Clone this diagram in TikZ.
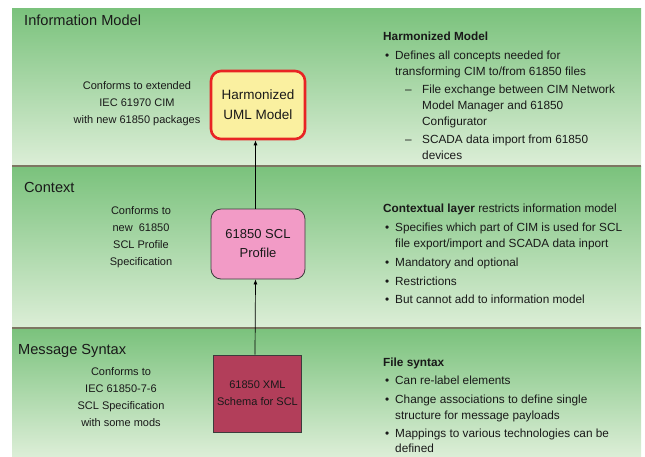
\documentclass[tikz,border=0pt]{standalone}
\usepackage{fontspec}
\setmainfont{Liberation Sans}
\usetikzlibrary{arrows.meta}
\definecolor{bandtop}{RGB}{122,194,124}
\definecolor{bandbot}{RGB}{220,238,215}
\definecolor{sepline}{RGB}{125,118,98}
\definecolor{txt}{RGB}{25,25,25}
\definecolor{harmfill}{RGB}{250,240,160}
\definecolor{harmdraw}{RGB}{232,36,36}
\definecolor{sclfill}{RGB}{242,155,198}
\definecolor{schemafill}{RGB}{178,62,90}
\definecolor{boxline}{RGB}{60,60,60}
\tikzset{
  band/.style={top color=bandtop,bottom color=bandbot},
  sep/.style={draw=sepline,line width=1.5pt},
  hdr/.style={anchor=base west,inner sep=0pt,text=txt,font=\fontsize{14.6}{17}\selectfont},
  lt/.style={align=center,inner sep=0pt,text=txt,font=\fontsize{11}{17}\selectfont},
  bd/.style={anchor=base west,inner sep=0pt,text=txt,font=\fontsize{11.8}{16}\selectfont},
  harm/.style={draw=harmdraw,fill=harmfill,line width=2.6pt,rounded corners=10pt,
    minimum width=94pt,minimum height=68pt,align=center,text=txt,
    font=\fontsize{13.5}{20}\selectfont},
  scl/.style={draw=boxline,fill=sclfill,line width=0.8pt,rounded corners=10pt,
    minimum width=94pt,minimum height=70pt,align=center,text=txt,
    font=\fontsize{13}{19}\selectfont},
  schema/.style={draw=boxline,fill=schemafill,line width=0.8pt,
    minimum width=83pt,minimum height=77pt,align=center,text=txt,
    font=\fontsize{11}{17}\selectfont},
  conn/.style={draw=black,line width=0.7pt,-{Latex[length=5pt,width=4pt]}}
}
\begin{document}
\begin{tikzpicture}[x=1pt,y=-1pt]
\useasboundingbox (0,0) rectangle (645,456);
\fill[white] (0,0) rectangle (645,456);
% bands
\shade[band] (12,8) rectangle (641,166);
\shade[band] (12,166) rectangle (641,328);
\shade[band] (12,328) rectangle (641,456);
\draw[sep] (12,166) -- (641,166);
\draw[sep] (12,328) -- (641,328);
% headers
\node[hdr] (h1) at (24,25) {Information Model};
\node[hdr] (h2) at (24,192) {Context};
\node[hdr] (h3) at (18,354) {Message Syntax};
% left texts
\node[lt] (c1) at (137,104) {Conforms to extended\\IEC 61970 CIM\\with new 61850 packages};
\node[lt] (c2) at (141,237) {Conforms to\\new~ 61850\\SCL Profile\\Specification};
\node[lt] (c3) at (121,397) {Conforms to\\IEC 61850-7-6\\SCL Specification\\with some mods};
% boxes
\node[harm] (harm) at (258,105) {Harmonized\\UML Model};
\node[scl] (scl) at (258,244) {61850 SCL\\Profile};
\node[schema] (schema) at (257.5,393.5) {61850 XML\\Schema for SCL};
% connectors
\draw[conn] ([xshift=-2.5pt]schema.north) -- ([xshift=-2.5pt]scl.south);
\draw[conn] ([xshift=-2.5pt]scl.north) -- ([xshift=-2.5pt]harm.south);
% right texts, band 1
\node[bd] (r1t) at (383,40) {\textbf{Harmonized Model}};
\node[bd] (r1b1) at (385,59) {•};
\node[bd] (r1a) at (395,59) {Defines all concepts needed for};
\node[bd] (r1b) at (395,75) {transforming CIM to/from 61850 files};
\node[bd] (r1d1) at (405,93) {–};
\node[bd] (r1c) at (422,93) {File exchange between CIM Network};
\node[bd] (r1d) at (422,109) {Model Manager and 61850};
\node[bd] (r1e) at (422,125) {Configurator};
\node[bd] (r1d2) at (405,143) {–};
\node[bd] (r1f) at (422,143) {SCADA data import from 61850};
\node[bd] (r1g) at (422,159) {devices};
% right texts, band 2
\node[bd] (r2t) at (383,212) {\textbf{Contextual layer} restricts information model};
\node[bd] (r2b1) at (385,231) {•};
\node[bd] (r2a) at (395,231) {Specifies which part of CIM is used for SCL};
\node[bd] (r2b) at (395,247) {file export/import and SCADA data inport};
\node[bd] (r2b2) at (385,266) {•};
\node[bd] (r2c) at (395,266) {Mandatory and optional};
\node[bd] (r2b3) at (385,285) {•};
\node[bd] (r2d) at (395,285) {Restrictions};
\node[bd] (r2b4) at (385,303) {•};
\node[bd] (r2e) at (395,303) {But cannot add to information model};
% right texts, band 3
\node[bd] (r3t) at (383,366) {\textbf{File syntax}};
\node[bd] (r3b1) at (385,384) {•};
\node[bd] (r3a) at (395,384) {Can re-label elements};
\node[bd] (r3b2) at (385,403) {•};
\node[bd] (r3b) at (395,403) {Change associations to define single};
\node[bd] (r3c) at (395,419) {structure for message payloads};
\node[bd] (r3b3) at (385,437) {•};
\node[bd] (r3d) at (395,437) {Mappings to various technologies can be};
\node[bd] (r3e) at (395,452) {defined};
\end{tikzpicture}
\end{document}
